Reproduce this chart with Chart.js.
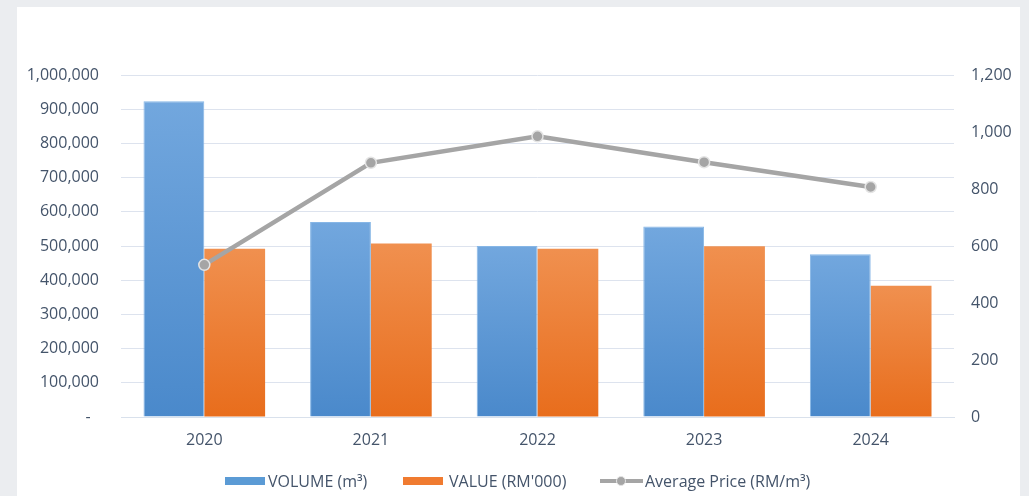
<!DOCTYPE html>
<html>
<head>
<meta charset="utf-8">
<script src="https://cdn.jsdelivr.net/npm/chart.js@4/dist/chart.umd.min.js"></script>
<style>
  html,body{margin:0;padding:0;}
  body{width:1029px;height:496px;background:#ebedf0;position:relative;overflow:hidden;font-family:"Open Sans",sans-serif;}
  #panel{position:absolute;left:17px;top:7px;width:1003px;height:489px;background:#ffffff;}
  #wrap{position:absolute;left:0;top:0;width:1029px;height:496px;}
  .lg{position:absolute;top:471px;height:20px;display:flex;align-items:center;font-size:16px;color:#44546a;white-space:nowrap;}
  .sw{display:inline-block;width:40px;height:8px;margin-right:3px;}
  .ln{position:relative;display:inline-block;width:43px;height:10px;margin-right:2px;}
  .ln:before{content:"";position:absolute;left:0;right:0;top:3px;height:4px;background:#a5a5a5;}
  .ln:after{content:"";position:absolute;left:16px;top:0;width:10px;height:10px;border-radius:50%;background:#a5a5a5;border:1px solid #e3e3e3;box-sizing:border-box;}
</style>
</head>
<body>
<div id="panel"></div>
<div id="wrap"><canvas id="c" width="1029" height="496"></canvas></div>
<div class="lg" style="left:225px"><span class="sw" style="background:#5b9bd5"></span><span>VOLUME (m³)</span></div>
<div class="lg" style="left:403px"><span class="sw" style="background:#f07b30"></span><span style="margin-left:3px">VALUE (RM'000)</span></div>
<div class="lg" style="left:600px"><span class="ln"></span><span>Average Price (RM/m³)</span></div>
<script>
const categories = ["2020", "2021", "2022", "2023", "2024"];
const volume = [923000, 570000, 500000, 557000, 476000];
const value = [492000, 507000, 492000, 499000, 384000];
const avgPrice = [534, 892, 985, 894, 807];
const leftTicks = [0, 100000, 200000, 300000, 400000, 500000, 600000, 700000, 800000, 900000, 1000000];
const rightTicks = [0, 200, 400, 600, 800, 1000, 1200];

const TEXT = '#44546a';
const FONT = {family: '"Open Sans", sans-serif', size: 16};

function grad(top, bottom) {
  return function (ctx) {
    const chart = ctx.chart;
    if (!chart.chartArea || ctx.type !== 'data') return bottom;
    const ys = chart.scales.y;
    const y0 = ys.getPixelForValue(ctx.raw);
    const y1 = ys.getPixelForValue(0);
    if (!isFinite(y0) || !isFinite(y1) || y0 === y1) return bottom;
    const g = chart.ctx.createLinearGradient(0, y0, 0, y1);
    g.addColorStop(0, top);
    g.addColorStop(1, bottom);
    return g;
  };
}

new Chart(document.getElementById('c'), {
  type: 'bar',
  data: {
    labels: categories,
    datasets: [
      {
        type: 'line', label: 'Average Price (RM/m³)', data: avgPrice, yAxisID: 'y1', order: 0,
        borderColor: '#a5a5a5', borderWidth: 4.5, tension: 0,
        pointRadius: 5.5, pointBackgroundColor: '#a5a5a5', pointBorderColor: '#e4e4e4', pointBorderWidth: 1.5,
        fill: false
      },
      {
        label: 'VOLUME (m³)', data: volume, yAxisID: 'y', order: 1,
        backgroundColor: grad('#72a7de', '#4a89cb'), borderColor: '#86b6e6', borderWidth: 1,
        categoryPercentage: 0.73, barPercentage: 1.0
      },
      {
        label: "VALUE (RM'000)", data: value, yAxisID: 'y', order: 1,
        backgroundColor: grad('#f0904f', '#e86d1c'), borderWidth: 0,
        categoryPercentage: 0.73, barPercentage: 1.0
      }
    ]
  },
  options: {
    responsive: false,
    animation: false,
    layout: {padding: {top: 75, left: 0, right: 0, bottom: 0}},
    plugins: {legend: {display: false}, tooltip: {enabled: false}},
    scales: {
      x: {
        grid: {display: false, drawTicks: false},
        border: {display: true, color: '#d9e1ec', width: 1},
        ticks: {color: TEXT, font: FONT, padding: 14},
        afterFit: s => { s.height = 79; }
      },
      y: {
        position: 'left', min: 0, max: 1000000,
        afterBuildTicks: s => { s.ticks = leftTicks.map(v => ({value: v})); },
        grid: {color: '#dde3ee', lineWidth: 1, drawTicks: false},
        border: {display: false},
        ticks: {color: TEXT, font: FONT, padding: 22,
          callback: v => v === 0 ? '-  ' : v.toLocaleString('en-US')},
        afterFit: s => { s.width = 121; }
      },
      y1: {
        position: 'right', min: 0, max: 1200,
        afterBuildTicks: s => { s.ticks = rightTicks.map(v => ({value: v})); },
        grid: {drawOnChartArea: false, drawTicks: false},
        border: {display: false},
        ticks: {color: TEXT, font: FONT, padding: 17,
          callback: v => v.toLocaleString('en-US')},
        afterFit: s => { s.width = 75; }
      }
    }
  }
});
</script>
</body>
</html>
